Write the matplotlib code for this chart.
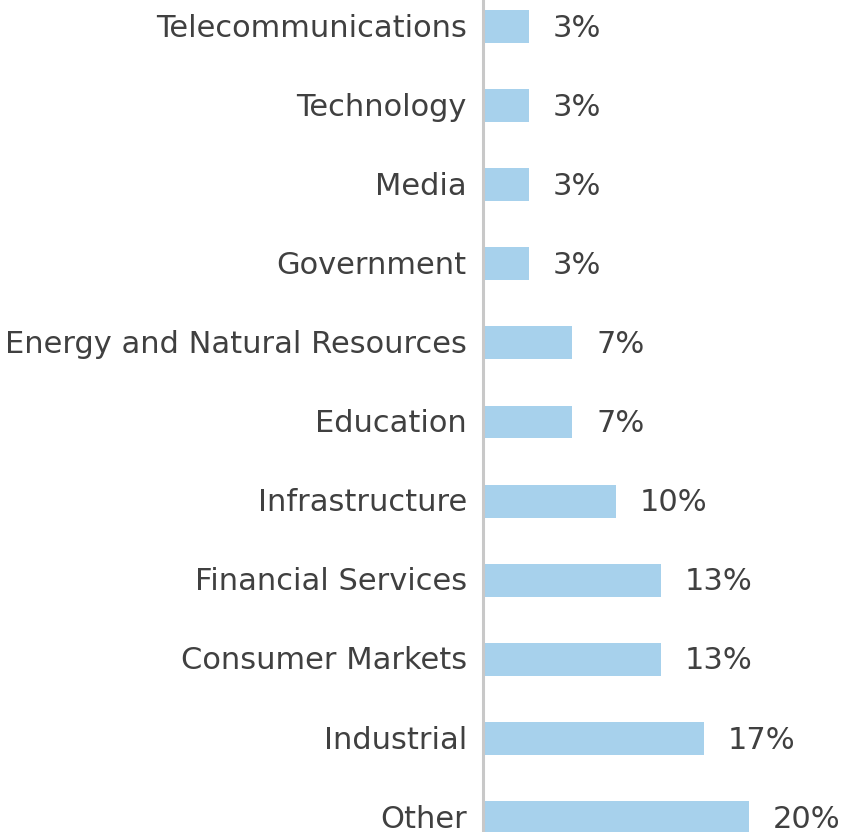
import matplotlib.pyplot as plt

# sector shares, bottom to top
sectors = ['Other', 'Industrial', 'Consumer Markets', 'Financial Services',
           'Infrastructure', 'Education', 'Energy and Natural Resources',
           'Government', 'Media', 'Technology', 'Telecommunications']
shares = [20.0, 16.6, 13.4, 13.4, 10.0, 6.7, 6.7, 3.4, 3.4, 3.4, 3.4]

bar_color = '#A7D1EC'
text_color = '#404040'
fsize = 22
drop = -0.33 * fsize   # baseline shift so the capitals sit centred on the bar

plt.rcParams['font.family'] = ['DejaVu Sans']

fig = plt.figure(figsize=(8.46, 8.32), dpi=100)
ax = fig.add_axes([0.5715, 0.0, 0.4285, 1.0])

pos = list(range(len(sectors)))
ax.barh(pos, shares, height=0.415, color=bar_color, zorder=1)

for p, name, s in zip(pos, sectors, shares):
    ax.annotate(name, xy=(0, p), xycoords=('axes fraction', 'data'),
                xytext=(-12, drop), textcoords='offset points',
                ha='right', va='baseline', fontsize=fsize, color=text_color)
    ax.annotate('{:.0f}%'.format(s), xy=(s, p), xytext=(17, drop),
                textcoords='offset points', ha='left', va='baseline',
                fontsize=fsize, color=text_color)

ax.set_xlim(0, 27.3)
ax.set_ylim(-0.183, 10.335)
ax.set_yticks([])
ax.set_xticks([])

for side in ['top', 'right', 'bottom']:
    ax.spines[side].set_visible(False)
ax.spines['left'].set_color('#C8C8C8')
ax.spines['left'].set_linewidth(2.2)

fig.savefig('out.png', dpi=100)
